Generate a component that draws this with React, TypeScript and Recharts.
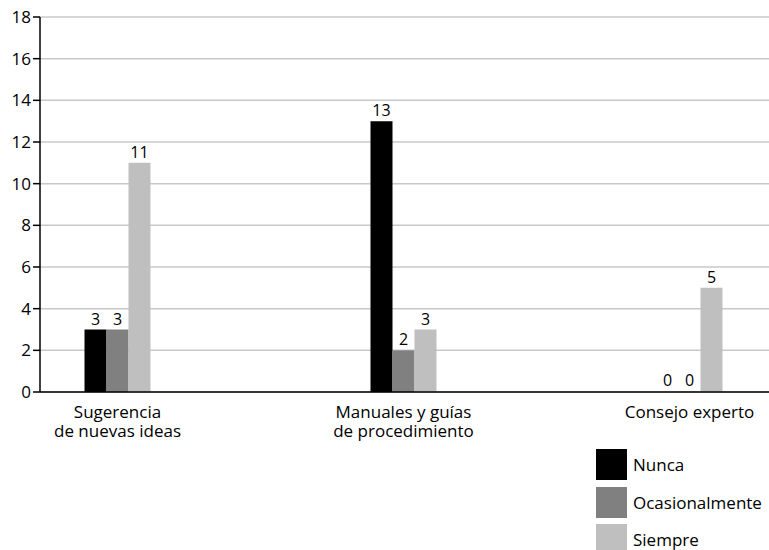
import React from 'react';
import { BarChart, Bar, XAxis, YAxis, CartesianGrid, LabelList, Legend, Rectangle } from 'recharts';

const categories = ['Sugerencia de nuevas ideas', 'Manuales y guías de procedimiento', 'Consejo experto'];
const categoryLines = [['Sugerencia', 'de nuevas ideas'], ['Manuales y guías', 'de procedimiento'], ['Consejo experto']];
const nunca = [3, 13, 0];
const ocasionalmente = [3, 2, 0];
const siempre = [11, 3, 5];
const yTicks = [0, 2, 4, 6, 8, 10, 12, 14, 16, 18];
const seriesNames = ['Nunca', 'Ocasionalmente', 'Siempre'];
const seriesKeys = ['nunca', 'ocasionalmente', 'siempre'];
const seriesColors = ['#000000', '#808080', '#bfbfbf'];

const data = categories.map((c, i) => ({
  pos: i,
  name: c,
  nunca: nunca[i],
  ocasionalmente: ocasionalmente[i],
  siempre: siempre[i],
}));

const FONT = '"Open Sans", "Noto Sans", sans-serif';

const CatTick = (props: any) => {
  const { x, y, payload } = props;
  const lines = categoryLines[payload.value] || [];
  return (
    <text x={x} y={y} textAnchor="middle" fill="#000" fontSize={17} fontFamily={FONT}>
      {lines.map((l, i) => (
        <tspan key={i} x={x} y={y + 18 + i * 19}>
          {l}
        </tspan>
      ))}
    </text>
  );
};

const LegendContent = (props: any) => {
  const { payload } = props;
  return (
    <div style={{ fontFamily: FONT, fontSize: 17, color: '#000' }}>
      {(payload || []).map((p: any, i: number) => (
        <div key={i} style={{ display: 'flex', alignItems: 'center', height: 31, marginBottom: 6.5 }}>
          <div style={{ width: 31, height: 31, background: p.color, marginRight: 6 }} />
          <span>{p.value}</span>
        </div>
      ))}
    </div>
  );
};

const makeShape = (key: string) => (props: any) => {
  const v = props.payload ? props.payload[key] : undefined;
  if (v === 0) return <g />;
  return <Rectangle {...props} />;
};

export default function App() {
  return (
    <div style={{ position: 'absolute', left: 0, top: 0, width: 769, height: 550, background: '#fff' }}>
      <BarChart
        width={769}
        height={550}
        data={data}
        margin={{ top: 17, right: 0, bottom: 98, left: 0 }}
        barGap={0}
        barSize={22}
      >
        <CartesianGrid vertical={false} stroke="#c8c8c8" strokeWidth={1.5} />
        <XAxis
          dataKey="pos"
          type="number"
          domain={[-0.271, 2.278]}
          ticks={[0, 1, 2]}
          tickLine={false}
          axisLine={{ stroke: '#000', strokeWidth: 1.5 }}
          tick={<CatTick />}
          height={60}
          interval={0}
        />
        <YAxis
          width={40}
          domain={[0, 18]}
          ticks={yTicks}
          interval={0}
          tickSize={7}
          tickLine={{ stroke: '#000', strokeWidth: 1.5 }}
          axisLine={{ stroke: '#000', strokeWidth: 1.5 }}
          tick={{ fill: '#000', fontSize: 17, fontFamily: FONT }}
        />
        <Legend
          layout="vertical"
          align="center"
          verticalAlign="middle"
          content={<LegendContent />}
          wrapperStyle={{ left: 596, top: 449, right: 'auto', bottom: 'auto', width: 173 }}
        />
        {seriesKeys.map((k, i) => (
          <Bar
            key={k}
            dataKey={k}
            name={seriesNames[i]}
            fill={seriesColors[i]}
            minPointSize={1}
            shape={makeShape(k)}
            isAnimationActive={false}
          >
            <LabelList dataKey={k} position="top" offset={5} fill="#000" fontSize={16} fontFamily={FONT} />
          </Bar>
        ))}
      </BarChart>
    </div>
  );
}
